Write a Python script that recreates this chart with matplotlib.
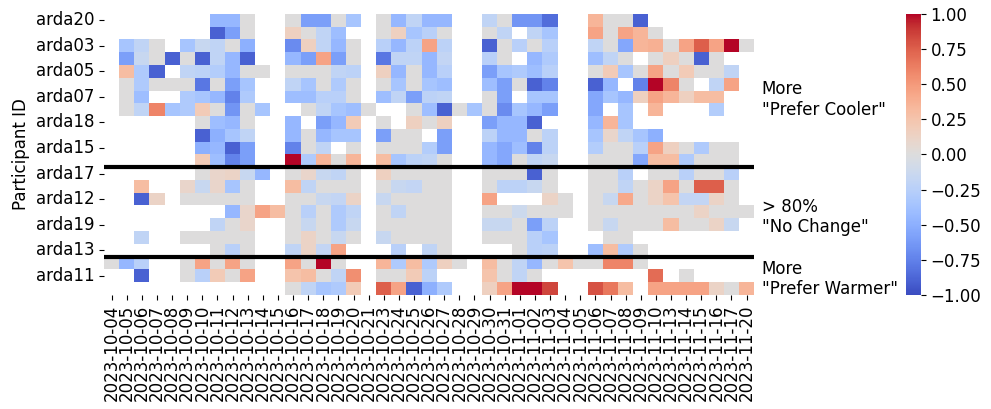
import numpy as np
import pandas as pd
import matplotlib
matplotlib.use('Agg')
import matplotlib.pyplot as plt
import seaborn as sns

plt.rcParams['font.size'] = 12

n = np.nan

# survey days (columns)
dates = ['2023-10-04', '2023-10-05', '2023-10-06', '2023-10-07', '2023-10-08', '2023-10-09',
         '2023-10-10', '2023-10-11', '2023-10-12', '2023-10-13', '2023-10-14', '2023-10-15',
         '2023-10-16', '2023-10-17', '2023-10-18', '2023-10-19', '2023-10-20', '2023-10-21',
         '2023-10-23', '2023-10-24', '2023-10-25', '2023-10-26', '2023-10-27', '2023-10-28',
         '2023-10-29', '2023-10-30', '2023-10-31', '2023-11-01', '2023-11-02', '2023-11-03',
         '2023-11-04', '2023-11-05', '2023-11-06', '2023-11-07', '2023-11-08', '2023-11-09',
         '2023-11-10', '2023-11-13', '2023-11-14', '2023-11-15', '2023-11-16', '2023-11-17',
         '2023-11-20']

# participants (rows), sorted by group
participants = ['arda20', 'arda08', 'arda03', 'arda16', 'arda05', 'arda09', 'arda07', 'arda01',
                'arda18', 'arda02', 'arda15', 'arda21', 'arda17', 'arda04', 'arda12', 'arda06',
                'arda19', 'arda10', 'arda13', 'arda14', 'arda11', 'arda22']

# daily mean preference vote per participant
arda20 = [n,n,n,n,n,n,n,-0.45,-0.45,0,n,n,0,-0.6,-0.6,0,-0.35,n,0,-0.45,-0.2,-0.45,-0.45,n,n,-0.2,0,-0.65,-0.65,-0.85,n,n,0.35,0,0,-0.9,n,n,n,n,n,n,n]
arda08 = [n,n,n,n,n,n,n,-0.9,-0.6,0,n,n,0.15,0,-0.2,-0.4,n,n,0,0.15,-0.35,-0.25,0,n,n,0,-0.2,n,-0.2,-0.35,n,n,0.45,0,0.45,0.35,0,n,n,n,n,n,n]
arda03 = [n,-0.35,-0.2,0,n,-0.35,-0.15,-0.2,0,-0.5,n,n,-0.7,0.15,-0.2,-0.45,0,n,-0.25,-0.45,-0.22,0.45,-0.22,n,n,-0.9,0,-0.25,0,-0.25,n,n,-0.2,0,-0.55,0.35,0.38,0,0.45,0.75,0.45,1.0,0]
arda16 = [n,-0.6,-0.15,0,-0.9,0,-0.9,-0.2,-0.45,-0.9,n,n,-0.45,-0.6,0.45,-0.6,0,n,-0.8,-0.2,-0.2,-0.45,-0.18,n,n,-0.25,0,n,-0.45,-0.3,n,n,-0.4,-0.2,0,n,0,0.15,0,-0.9,0,n,n]
arda05 = [n,0.3,-0.3,-0.9,n,-0.2,-0.22,-0.28,-0.45,0,0,n,0,0,0,-0.2,-0.22,n,0.15,-0.45,0,-0.45,-0.25,n,n,-0.6,-0.35,-0.3,-0.4,-0.25,n,n,0,0.2,-0.35,0,0.45,0,0.2,0,0,-0.2,n]
arda09 = [n,0,-0.3,0,0,0,-0.8,0,-0.6,-0.35,n,n,-0.2,-0.35,0,-0.3,0,n,0,-0.35,0,-0.35,-0.4,n,n,-0.4,-0.6,0,-0.9,-0.75,n,n,-0.9,-0.45,n,-0.75,1.0,0.6,0,n,-0.2,0.45,n]
arda07 = [n,0,-0.4,n,n,-0.3,-0.35,-0.45,-0.75,-0.3,n,n,-0.4,-0.4,-0.25,-0.25,0,n,-0.4,-0.2,-0.6,-0.22,-0.2,n,n,0,-0.6,n,-0.35,-0.35,n,n,-0.55,-0.35,-0.45,0.15,0.45,0.35,0.15,0.3,0.3,n,n]
arda01 = [n,0,-0.2,0.6,-0.35,-0.3,0.2,0,-0.65,0,-0.35,n,n,0,-0.2,-0.35,-0.4,0,n,n,0,-0.4,-0.9,0,-0.35,0,-0.7,-0.35,-0.45,-0.6,n,n,-0.55,n,-0.35,n,0.35,n,n,n,-0.28,n,n]
arda18 = [n,n,n,n,n,n,0,-0.4,-0.45,0,n,n,-0.45,n,-0.6,-0.45,0.2,n,0,n,0.15,0,0.15,n,n,-0.6,-0.45,-0.45,-0.9,n,n,n,-0.45,0.35,-0.35,n,n,n,n,n,n,n,n]
arda02 = [n,n,n,n,n,n,-0.9,-0.5,-0.35,-0.2,n,n,-0.45,0,-0.45,-0.35,-0.35,n,-0.6,0,0,n,-0.6,n,n,-0.22,-0.45,-0.45,0,-0.22,n,n,-0.35,0.1,-0.2,-0.35,-0.5,n,n,n,n,n,n]
arda15 = [n,n,n,n,n,n,-0.5,-0.45,-0.9,-0.6,n,n,-0.75,0,-0.2,n,0,n,0,0,0,-0.28,-0.6,n,n,-0.45,-0.55,-0.4,-0.75,-0.22,n,n,-0.28,0,0,-0.25,0.45,0.15,0,-0.3,0,0,n]
arda21 = [n,n,n,n,n,n,0.2,-0.4,-0.75,-0.6,n,n,1.0,-0.3,0.35,0,0.35,n,0.3,-0.35,-0.22,-0.2,0,n,n,-0.45,-0.55,0,-0.2,-0.15,n,n,0,0,0,-0.55,0.3,0.3,-0.3,0,0,0,n]
arda17 = [n,n,n,n,n,n,0,0.1,0.12,-0.15,-0.45,n,0,0.1,-0.15,-0.2,0,n,0.15,0,0,0,0,n,n,0,0,0,-0.9,0,n,n,0,0,-0.25,n,0,0,-0.25,0,0,-0.25,n]
arda04 = [n,n,0.3,n,n,0.1,-0.15,0.1,-0.35,0,n,n,0.3,-0.2,0,0,0,n,0,-0.15,-0.18,0,0,n,n,0,-0.22,-0.22,-0.15,0,n,n,0,0,-0.2,0,0.12,0.45,0,0.75,0.75,0,n]
arda12 = [n,n,-0.9,0.12,n,0,0,0,0,0,n,n,0,0,-0.15,-0.18,0.12,n,-0.15,0,0,0,0,n,n,0.45,n,n,n,0.12,0,n,0,-0.15,0.42,0,0.12,0.25,-0.18,-0.18,0.12,0,n]
arda06 = [n,n,n,n,n,n,n,n,-0.45,0.1,0.45,0.3,0,-0.25,0,-0.3,-0.2,n,0,-0.2,0,0,0,n,n,0,0,-0.12,0,0,0,n,0,0,0,0,0,0,0,0.12,0,0,0]
arda19 = [n,n,n,n,n,n,n,-0.2,0,0.1,n,n,0,-0.15,0,-0.3,-0.15,n,0,0,0,0,0,n,n,-0.15,-0.15,0,-0.6,-0.22,n,n,0,-0.15,0,0,0,0.3,0,0,0.12,-0.15,n]
arda10 = [n,n,-0.2,n,n,0,0,0,0,0,n,n,0,0.12,0,-0.15,0,n,-0.15,0,0,0,0,n,n,0,0,0,-0.25,-0.35,n,n,n,0,0,n,n,n,n,n,n,n,n]
arda13 = [n,n,n,n,n,n,n,0,-0.25,0,n,n,-0.2,0.12,-0.18,0.45,n,n,n,-0.25,n,-0.2,0,n,n,n,n,0,-0.25,-0.22,n,n,-0.4,0.3,-0.3,0,n,n,n,n,n,n,n]
arda14 = [0,-0.45,-0.25,n,n,0,0.45,0,0.45,0,n,n,0.45,0,1.0,0,n,n,0.35,-0.3,0.3,-0.3,0.15,0,n,0.3,0,-0.2,-0.45,0,0.25,0,0,0.6,0.6,0,n,n,n,n,n,n,n]
arda11 = [n,n,-0.9,n,n,0,-0.25,0.2,0,0.45,n,n,0.25,0.3,0,-0.2,0.55,n,0,0,0.2,-0.22,n,n,n,0.25,0,-0.2,0,n,n,n,n,n,n,n,0.7,n,0,n,n,n,n]
arda22 = [n,n,n,n,n,n,n,n,n,n,n,n,0,-0.2,-0.35,-0.3,0.2,n,0.75,0.45,-0.9,-0.5,-0.3,n,n,0.15,0.45,1.0,1.0,0.85,n,n,0.8,0.65,0.3,n,0.45,0.45,0.45,0.45,0.12,0,0.35]

rows = [arda20, arda08, arda03, arda16, arda05, arda09, arda07, arda01, arda18, arda02, arda15,
        arda21, arda17, arda04, arda12, arda06, arda19, arda10, arda13, arda14, arda11, arda22]
df = pd.DataFrame(rows, index=participants, columns=dates)

# group boundaries (row index where a new group starts)
group_breaks = [12, 19]
group_labels = ['More\n"Prefer Cooler"', '> 80%\n"No Change"', 'More\n"Prefer Warmer"']
group_label_y = [6.7, 15.9, 20.75]

fig = plt.figure(figsize=(9.91, 4.09), dpi=100)
ax = fig.add_axes([0.105, 0.279, 0.656, 0.687])
cax = fig.add_axes([0.914, 0.279, 0.0151, 0.687])

sns.heatmap(df, cmap='coolwarm', vmin=-1, vmax=1, ax=ax, cbar_ax=cax,
            xticklabels=1, yticklabels=2)
ax.set_xticklabels(ax.get_xticklabels(), rotation=90)
ax.set_yticklabels(ax.get_yticklabels(), rotation=0)
ax.set_ylabel('Participant ID')
ax.set_xlabel('')

ax.hlines(group_breaks, 0, len(dates), colors='k', linewidth=3)
for y, lab in zip(group_label_y, group_labels):
    ax.text(len(dates) + 0.5, y, lab, va='center', ha='left')

fig.savefig('out.png')
